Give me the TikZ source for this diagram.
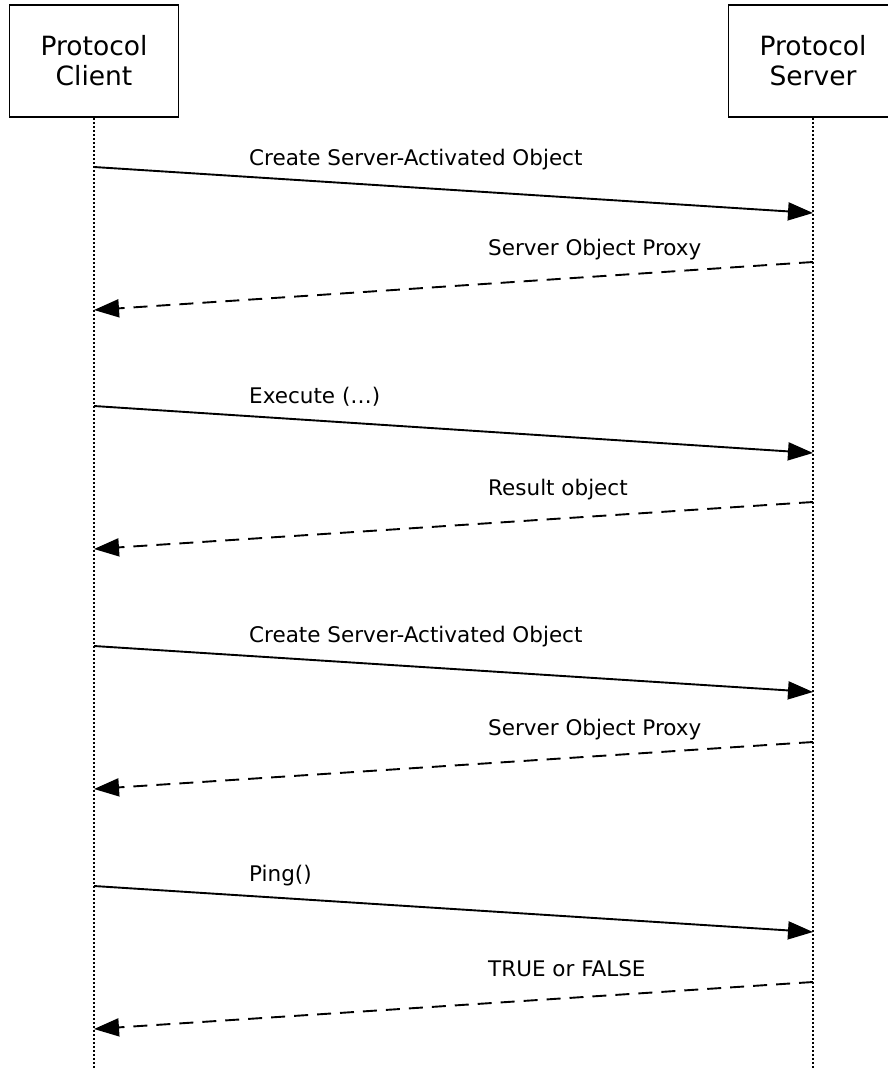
\documentclass[tikz,border=0pt]{standalone}
\usepackage{fontspec}
\setmainfont{DejaVu Sans}
\usetikzlibrary{arrows.meta}
\begin{document}
\begin{tikzpicture}[x=1pt,y=-1pt,
  actor/.style={draw,line width=1.6pt,minimum width=169pt,minimum height=112pt,align=center,font=\fontsize{26.5}{30}\selectfont,inner sep=0pt},
  life/.style={line width=1.8pt,dash pattern=on 2pt off 2pt},
  msg/.style={line width=1.9pt,-{Triangle[length=25pt,width=18pt]}},
  reply/.style={msg,dash pattern=on 14pt off 9pt},
  lbl/.style={anchor=base west,inner sep=0pt,font=\fontsize{21.5}{24}\selectfont}]
\useasboundingbox (0,0) rectangle (888,1069);
\node[actor] (client) at (94,61) {Protocol\\Client};
\node[actor] (server) at (813,61) {Protocol\\Server};
\coordinate (cend) at (94,1069);
\coordinate (send) at (813,1069);
\draw[life] (client.south) -- (cend);
\draw[life] (server.south) -- (send);
% message coordinates
\coordinate (c1) at (94,167); \coordinate (s1) at (813,213);
\coordinate (s2) at (813,262); \coordinate (c2) at (94,310);
\coordinate (c3) at (94,406); \coordinate (s3) at (813,453);
\coordinate (s4) at (813,502); \coordinate (c4) at (94,549);
\coordinate (c5) at (94,646); \coordinate (s5) at (813,692);
\coordinate (s6) at (813,742); \coordinate (c6) at (94,789);
\coordinate (c7) at (94,886); \coordinate (s7) at (813,932);
\coordinate (s8) at (813,982); \coordinate (c8) at (94,1029);
\draw[msg] (c1) -- (s1);
\draw[reply] (s2) -- (c2);
\draw[msg] (c3) -- (s3);
\draw[reply] (s4) -- (c4);
\draw[msg] (c5) -- (s5);
\draw[reply] (s6) -- (c6);
\draw[msg] (c7) -- (s7);
\draw[reply] (s8) -- (c8);
\node[lbl] (l1) at (249,165) {Create Server-Activated Object};
\node[lbl] (l2) at (488,255) {Server Object Proxy};
\node[lbl] (l3) at (249,403) {Execute (…)};
\node[lbl] (l4) at (488,495) {Result object};
\node[lbl] (l5) at (249,642) {Create Server-Activated Object};
\node[lbl] (l6) at (488,735) {Server Object Proxy};
\node[lbl] (l7) at (249,881) {Ping()};
\node[lbl] (l8) at (488,976) {TRUE or FALSE};
\end{tikzpicture}
\end{document}
